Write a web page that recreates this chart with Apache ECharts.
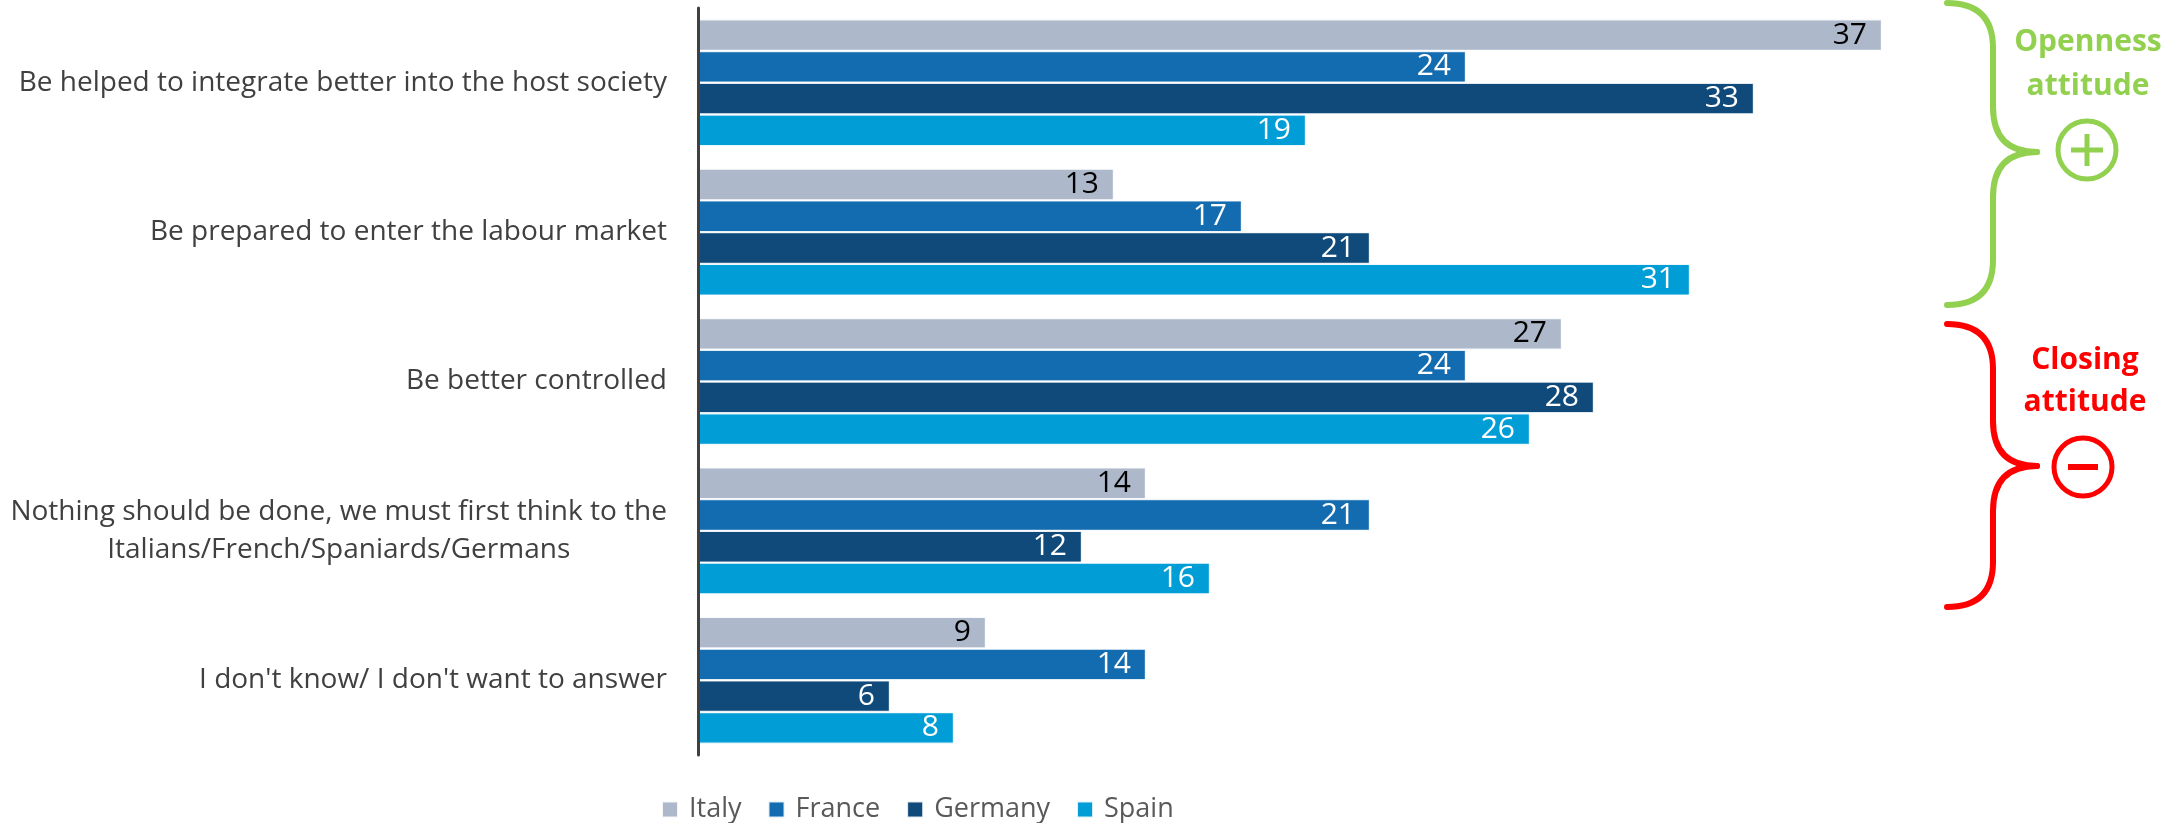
<!DOCTYPE html>
<html>
<head>
<meta charset="utf-8">
<script src="https://cdn.jsdelivr.net/npm/echarts@6/dist/echarts.min.js"></script>
<style>
  html, body { margin: 0; padding: 0; background: #fff; }
  #chart { width: 2180px; height: 823px; }
</style>
</head>
<body>
<div id="chart"></div>
<script>
const categories = [
  'Be helped to integrate better into the host society',
  'Be prepared to enter the labour market',
  'Be better controlled',
  'Nothing should be done, we must first think to the\nItalians/French/Spaniards/Germans',
  "I don't know/ I don't want to answer"
];
const seriesNames = ['Italy', 'France', 'Germany', 'Spain'];
const italy   = [37, 13, 27, 14, 9];
const france  = [24, 17, 24, 21, 14];
const germany = [33, 21, 28, 12, 6];
const spain   = [19, 31, 26, 16, 8];

const colors = ['#ADB9CA', '#136BB0', '#0F4A7A', '#009DD6'];
const labelColors = ['#000000', '#ffffff', '#ffffff', '#ffffff'];
const FONT = '"Open Sans", "Noto Sans", sans-serif';

const chart = echarts.init(document.getElementById('chart'), null, { renderer: 'canvas' });

const seriesData = [italy, france, germany, spain];
const series = seriesData.map((d, i) => ({
  name: seriesNames[i],
  type: 'bar',
  data: d,
  barWidth: 31.75,
  barGap: '0%',
  itemStyle: { color: colors[i], borderColor: 'rgba(255,255,255,0.85)', borderWidth: 1.2 },
  label: {
    show: true,
    position: 'insideRight',
    distance: 15,
    color: labelColors[i],
    fontFamily: FONT,
    fontSize: 30
  },
  emphasis: { disabled: true },
  animation: false
}));

function brace(x0, xv, xt, y0, ym, y1, color) {
  const r = 45;
  const st = { fill: null, stroke: color, lineWidth: 6, lineCap: 'round' };
  const bz = (x1, y1, cx, cy, x2, y2) => ({ type: 'bezierCurve', shape: { x1, y1, cpx1: cx, cpy1: cy, x2, y2 }, style: st });
  const ln = (x1, y1, x2, y2) => ({ type: 'line', shape: { x1, y1, x2, y2 }, style: st });
  return [
    bz(x0, y0, xv, y0, xv, y0 + r),
    ln(xv, y0 + r, xv, ym - r),
    bz(xv, ym - r, xv, ym, xt, ym),
    bz(xt, ym, xv, ym, xv, ym + r),
    ln(xv, ym + r, xv, y1 - r),
    bz(xv, y1 - r, xv, y1, x0, y1)
  ];
}

const GREEN = '#92D050';
const RED = '#FF0000';
const BOLD = 'bold 30px "Open Sans", sans-serif';

const option = {
  backgroundColor: '#ffffff',
  animation: false,
  grid: { left: 698, top: 8, width: 1280, height: 747, containLabel: false },
  xAxis: {
    type: 'value', min: 0, max: 40, show: false
  },
  yAxis: {
    type: 'category',
    data: categories,
    inverse: true,
    z: 5,
    axisLine: { show: true, lineStyle: { color: '#404040', width: 3 } },
    axisTick: { show: false },
    splitLine: { show: false },
    axisLabel: {
      margin: 31,
      align: 'right',
      formatter: v => v.split('\n').map(l => '{c|' + l + '}').join('\n'),
      rich: {
        c: { align: 'center', fontFamily: FONT, fontSize: 28, color: '#404040', lineHeight: 38 }
      }
    }
  },
  legend: {
    data: seriesNames,
    left: 656,
    top: 791,
    itemWidth: 16,
    itemHeight: 16,
    itemGap: 26,
    icon: 'rect',
    selectedMode: false,
    textStyle: { fontFamily: FONT, fontSize: 27, color: '#595959', padding: [0, 0, 0, 6] }
  },
  series: series,
  graphic: [].concat(
    brace(1947, 1993, 2037, 3, 152, 305, GREEN),
    [
      { type: 'text', style: { text: 'Openness', x: 2088, y: 42, align: 'center', verticalAlign: 'middle', fill: GREEN, font: BOLD } },
      { type: 'text', style: { text: 'attitude', x: 2088, y: 86, align: 'center', verticalAlign: 'middle', fill: GREEN, font: BOLD } },
      { type: 'circle', shape: { cx: 2087, cy: 150, r: 29 }, style: { fill: null, stroke: GREEN, lineWidth: 5 } },
      { type: 'line', shape: { x1: 2071, y1: 150, x2: 2103, y2: 150 }, style: { stroke: GREEN, lineWidth: 5 } },
      { type: 'line', shape: { x1: 2087, y1: 134, x2: 2087, y2: 166 }, style: { stroke: GREEN, lineWidth: 5 } }
    ],
    brace(1947, 1993, 2037, 324, 466, 607, RED),
    [
      { type: 'text', style: { text: 'Closing', x: 2085, y: 360, align: 'center', verticalAlign: 'middle', fill: RED, font: BOLD } },
      { type: 'text', style: { text: 'attitude', x: 2085, y: 402, align: 'center', verticalAlign: 'middle', fill: RED, font: BOLD } },
      { type: 'circle', shape: { cx: 2083, cy: 467, r: 29 }, style: { fill: null, stroke: RED, lineWidth: 5 } },
      { type: 'line', shape: { x1: 2068, y1: 467, x2: 2098, y2: 467 }, style: { stroke: RED, lineWidth: 6 } }
    ]
  )
};
chart.setOption(option);
</script>
</body>
</html>
